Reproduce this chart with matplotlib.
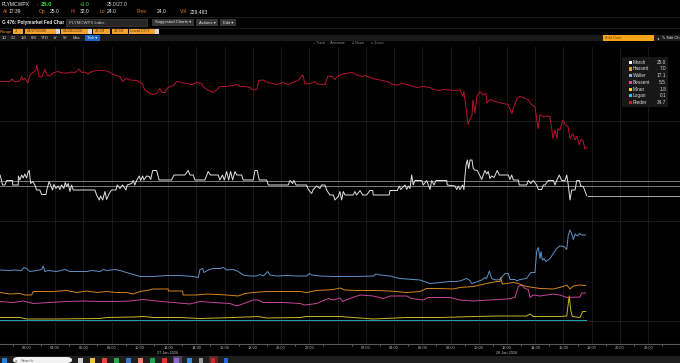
import matplotlib
matplotlib.use('Agg')
import matplotlib.pyplot as plt
from matplotlib.patches import Rectangle, FancyBboxPatch

plt.rcParams['font.family'] = ['Liberation Sans', 'DejaVu Sans']

W, H = 680, 363

# time axis: hours since 27 Jan 2026 00:00 (local), values: implied probability (%)
rieder_t = [0.1, 0.8, 0.94, 1.15, 1.5, 1.65, 1.72, 1.86, 2.08, 2.22,
            2.43, 2.64, 2.71, 2.85, 3.07, 3.28, 3.42, 3.63, 3.85, 4.2,
            4.48, 4.84, 5.19, 5.4, 5.69, 5.9, 6.11, 6.32, 6.61, 6.96,
            7.32, 7.67, 7.88, 8.24, 8.59, 8.8, 9.02, 9.3, 9.8, 10.15,
            10.36, 10.72, 10.93, 11.21, 11.42, 11.57, 11.78, 11.99, 12.34, 12.63,
            12.98, 13.34, 13.69, 14.04, 14.4, 14.47, 14.82, 15.18, 15.46, 15.67,
            16.17, 16.59, 16.88, 17.09, 17.44, 17.8, 18.01, 18.29, 18.43, 18.72,
            19.07, 19.71, 20.13, 20.49, 20.84, 21.2, 21.55, 21.69, 22.05, 22.4,
            22.54, 23.11, 23.32, 23.6, 23.82, 24.03, 24.38, 25.02, 25.38, 25.73,
            25.94, 26.3, 26.51, 27.0, 27.5, 27.93, 28.28, 28.56, 28.92, 29.27,
            29.63, 29.98, 30.55, 30.9, 31.25, 31.47, 31.96, 32.32, 32.67, 32.88,
            32.95, 33.17, 33.24, 33.52, 33.59, 33.73, 33.87, 34.09, 34.3, 34.51,
            34.58, 34.79, 35.15, 35.72, 36.07, 36.35, 36.42, 36.71, 36.92, 37.27,
            37.49, 37.77, 37.98, 38.2, 38.34, 38.55, 38.83, 39.04, 39.26, 39.4,
            39.54, 39.61, 39.75, 39.96, 40.11, 40.32, 40.46, 40.67, 40.81, 40.96,
            41.1, 41.24, 41.38, 41.52, 41.66]
rieder_v = [47.8, 47.8, 48.3, 47.7, 47.9, 48.8, 48.1, 48.5, 47.5, 49.1,
            49.6, 50.1, 51.1, 48.8, 48.7, 50.3, 49.1, 48.9, 49.5, 49.8,
            49.5, 49.5, 49.7, 49.5, 50.3, 49.6, 49.7, 49.3, 49.8, 50.0,
            50.0, 49.9, 49.6, 49.1, 48.8, 47.8, 48.4, 48.1, 48.0, 47.4,
            46.1, 45.4, 45.2, 45.4, 46.4, 45.6, 45.6, 46.6, 46.9, 47.8,
            47.6, 47.4, 47.2, 47.6, 47.4, 46.8, 46.1, 45.6, 46.2, 46.8,
            46.8, 47.0, 47.2, 46.8, 46.8, 46.6, 46.1, 46.2, 48.0, 48.1,
            47.6, 47.2, 47.6, 47.2, 47.6, 48.0, 49.1, 47.3, 47.4, 47.8,
            47.3, 47.2, 48.9, 48.8, 48.2, 48.9, 49.3, 49.6, 49.1, 48.8,
            49.0, 48.6, 48.4, 48.1, 47.8, 47.2, 47.1, 47.4, 47.2, 46.9,
            46.6, 46.8, 46.6, 46.1, 46.0, 46.2, 46.1, 46.0, 46.1, 44.8,
            45.8, 40.8, 39.3, 41.1, 44.1, 41.5, 44.8, 45.8, 45.1, 45.4,
            43.5, 44.2, 43.8, 43.4, 43.2, 41.4, 42.2, 44.4, 44.8, 44.4,
            44.2, 43.1, 42.8, 38.4, 41.1, 40.8, 40.9, 40.8, 36.4, 38.1,
            36.4, 38.4, 38.1, 40.1, 39.1, 38.8, 36.4, 37.4, 36.1, 36.9,
            35.1, 36.2, 36.0, 34.3, 34.7]

marsh_t = [0.1, 0.21, 0.28, 0.45, 0.57, 0.99, 1.0, 1.39, 1.4, 1.51,
           1.63, 1.74, 1.86, 1.98, 2.1, 2.17, 2.27, 2.41, 2.57, 2.69,
           2.92, 3.05, 3.35, 3.44, 3.58, 3.68, 3.82, 3.92, 4.06, 4.22,
           4.34, 4.46, 4.62, 4.72, 4.82, 4.93, 5.05, 5.17, 5.28, 6.82,
           6.94, 7.13, 7.22, 7.37, 7.53, 7.65, 7.83, 8.0, 8.31, 8.4,
           8.59, 8.78, 9.02, 9.11, 9.42, 9.53, 9.65, 9.77, 9.96, 10.06,
           10.2, 10.29, 10.48, 10.67, 10.77, 10.91, 11.19, 11.37, 12.25, 12.42,
           13.19, 13.43, 13.55, 13.78, 13.9, 14.61, 14.84, 15.01, 15.55, 15.67,
           15.86, 15.98, 16.15, 16.29, 16.43, 16.57, 16.74, 16.86, 17.21, 17.32,
           18.03, 18.15, 18.31, 18.46, 18.98, 19.1, 20.51, 20.63, 20.82, 20.91,
           21.06, 21.81, 21.93, 22.17, 22.28, 22.52, 22.75, 22.87, 23.11, 23.23,
           23.46, 23.7, 23.82, 24.05, 24.17, 24.29, 24.41, 24.53, 25.11, 25.23,
           25.35, 25.59, 25.78, 26.06, 26.3, 26.49, 26.53, 27.66, 27.71, 28.23,
           28.37, 28.47, 28.78, 28.9, 29.01, 29.13, 29.25, 29.36, 29.48, 29.96,
           30.07, 30.31, 30.43, 30.55, 30.67, 30.83, 30.97, 31.73, 31.77, 32.32,
           32.44, 32.55, 32.67, 32.86, 32.95, 33.02, 33.1, 33.19, 33.29, 33.38,
           33.52, 33.61, 33.73, 33.9, 34.09, 34.21, 34.32, 34.44, 34.56, 34.67,
           34.79, 34.91, 35.08, 35.31, 35.45, 36.09, 36.21, 36.33, 36.45, 36.8,
           36.87, 37.39, 37.51, 37.68, 37.86, 38.1, 38.22, 38.46, 38.57, 38.69,
           38.92, 39.28, 39.4, 39.52, 39.7, 39.87, 40.11, 40.23, 40.34, 40.46,
           40.58, 40.82, 40.94, 41.12, 41.22, 41.4, 41.64]
marsh_v = [29.1, 28.0, 27.1, 27.1, 28.0, 28.0, 27.1, 27.1, 28.9, 28.1,
           29.1, 28.5, 29.3, 28.5, 29.8, 30.0, 27.4, 27.8, 27.1, 26.1,
           26.1, 25.2, 25.2, 26.4, 27.8, 27.1, 26.1, 27.2, 26.4, 26.9,
           26.2, 27.1, 26.4, 27.6, 26.8, 27.4, 25.8, 27.1, 26.1, 26.1,
           25.1, 24.1, 24.9, 24.1, 25.8, 24.2, 25.4, 26.1, 26.1, 27.1,
           26.4, 27.1, 26.1, 27.1, 27.4, 28.0, 27.1, 28.0, 28.9, 28.0,
           28.9, 28.1, 28.9, 28.8, 28.2, 30.0, 30.0, 28.1, 28.1, 29.1,
           29.1, 30.0, 29.1, 29.1, 28.1, 28.1, 29.8, 29.1, 29.1, 28.1,
           29.1, 28.1, 29.8, 28.1, 29.8, 28.1, 29.8, 29.1, 29.1, 28.1,
           28.1, 30.0, 30.0, 28.1, 28.1, 27.1, 27.1, 28.0, 27.4, 28.0,
           27.1, 27.1, 26.2, 25.4, 26.2, 26.9, 26.4, 27.1, 27.1, 26.1,
           25.1, 25.1, 24.1, 24.8, 25.8, 24.1, 25.8, 25.1, 25.1, 25.8,
           25.1, 26.0, 25.1, 25.1, 26.0, 26.0, 25.1, 25.1, 26.0, 26.0,
           26.9, 26.2, 27.1, 26.2, 26.9, 26.4, 29.1, 27.1, 28.0, 28.0,
           27.1, 28.0, 27.1, 26.2, 28.0, 27.1, 28.0, 28.0, 27.1, 26.9,
           26.2, 26.9, 26.2, 27.1, 26.2, 28.8, 31.1, 32.1, 30.4, 32.1,
           32.1, 30.4, 30.1, 30.0, 28.9, 28.2, 29.1, 30.0, 29.3, 29.8,
           28.4, 28.9, 28.6, 30.0, 29.1, 29.1, 28.2, 29.1, 28.1, 28.1,
           27.1, 27.1, 28.0, 27.4, 28.0, 27.1, 26.2, 26.2, 27.1, 27.1,
           28.0, 28.0, 27.1, 28.0, 29.1, 28.0, 28.0, 29.1, 27.1, 24.1,
           26.1, 26.1, 28.0, 28.0, 26.9, 26.8, 25.0]

waller_t = [0.1, 0.8, 1.03, 1.63, 1.79, 1.98, 2.22, 2.69, 3.05, 3.16,
            3.28, 3.51, 4.11, 4.7, 5.05, 6.23, 6.59, 7.17, 7.41, 7.65,
            8.24, 8.59, 9.3, 10.01, 10.95, 11.9, 12.84, 13.78, 14.14, 14.26,
            14.45, 14.54, 14.84, 15.2, 15.67, 15.91, 16.15, 16.62, 16.97, 17.32,
            17.8, 18.27, 18.51, 18.74, 19.05, 19.21, 19.69, 20.4, 21.11, 21.81,
            22.0, 22.17, 22.75, 23.7, 24.17, 25.35, 26.53, 26.72, 27.01, 27.71,
            28.42, 29.36, 29.84, 30.55, 31.25, 31.96, 32.32, 32.67, 33.14, 33.33,
            33.5, 33.73, 34.21, 34.44, 34.56, 34.75, 34.91, 35.08, 35.27, 35.5,
            35.86, 36.09, 36.21, 36.57, 36.69, 36.92, 37.39, 37.68, 37.98, 38.1,
            38.22, 38.34, 38.41, 38.5, 38.62, 38.76, 39.04, 39.28, 39.52, 39.75,
            40.04, 40.23, 40.34, 40.46, 40.58, 40.7, 40.82, 40.98, 41.12, 41.29,
            41.57]
waller_v = [10.1, 10.0, 10.1, 10.0, 10.6, 10.4, 9.8, 10.0, 10.2, 10.9,
            9.8, 10.0, 9.8, 10.2, 9.8, 9.8, 10.0, 9.8, 10.2, 10.0,
            10.2, 10.0, 9.4, 8.8, 8.8, 9.0, 9.0, 8.8, 8.6, 10.2,
            10.4, 9.6, 10.1, 10.4, 10.4, 10.6, 10.1, 10.2, 9.8, 9.1,
            8.9, 8.9, 9.2, 8.9, 9.8, 9.1, 8.9, 9.0, 8.9, 8.9,
            9.4, 9.1, 8.9, 8.8, 8.8, 8.8, 8.9, 9.3, 9.1, 8.9,
            8.4, 8.2, 8.1, 7.4, 7.6, 7.8, 7.8, 7.9, 8.4, 8.1,
            7.4, 7.6, 8.1, 8.6, 8.4, 9.9, 8.4, 8.2, 8.1, 8.2,
            9.4, 9.4, 8.2, 8.2, 7.9, 8.2, 8.4, 9.6, 9.6, 13.8,
            14.6, 12.4, 13.8, 12.1, 12.4, 11.8, 12.4, 13.4, 14.4, 14.9,
            14.8, 14.2, 17.1, 18.1, 17.4, 16.2, 17.3, 16.9, 17.4, 17.1,
            17.1]

hassett_t = [0.1, 0.8, 1.51, 1.86, 2.34, 2.45, 3.16, 3.87, 4.82, 5.52,
             6.23, 6.94, 7.65, 8.36, 9.07, 9.53, 10.01, 10.48, 10.95, 12.01,
             12.02, 13.03, 13.07, 14.02, 14.73, 15.44, 16.15, 16.97, 17.44, 18.03,
             18.98, 20.16, 21.34, 21.81, 22.52, 23.23, 23.7, 24.17, 24.53, 25.35,
             26.53, 27.71, 28.9, 29.84, 30.31, 31.25, 32.2, 32.67, 33.61, 34.09,
             34.56, 35.27, 35.5, 35.55, 35.67, 35.98, 36.45, 36.8, 37.04, 37.39,
             38.34, 39.28, 39.99, 40.23, 40.46, 40.7, 41.17, 41.57]
hassett_v = [5.6, 5.3, 5.4, 5.1, 5.1, 5.8, 5.8, 5.8, 6.0, 5.6,
             5.9, 5.6, 5.8, 5.6, 5.6, 5.3, 5.8, 6.0, 6.3, 6.3,
             5.9, 5.9, 5.1, 5.1, 5.3, 5.2, 5.1, 4.9, 5.4, 5.6,
             5.8, 5.8, 5.8, 5.6, 6.0, 6.1, 6.2, 6.5, 6.1, 6.0,
             6.0, 5.9, 5.6, 5.8, 6.4, 6.4, 6.3, 6.6, 6.8, 7.1,
             7.4, 7.8, 7.8, 8.6, 7.3, 7.4, 7.6, 7.4, 7.1, 6.8,
             6.4, 6.3, 6.8, 7.1, 6.3, 6.9, 7.1, 7.0]

bessent_t = [0.1, 1.03, 1.74, 2.45, 3.63, 4.82, 5.99, 7.17, 8.36, 9.3,
             10.24, 11.19, 12.37, 13.55, 14.26, 15.2, 16.38, 16.86, 17.56, 18.03,
             18.39, 18.74, 20.16, 21.34, 21.69, 22.52, 23.34, 23.7, 24.17, 24.36,
             24.88, 25.59, 26.53, 27.24, 27.71, 28.9, 29.25, 30.07, 30.43, 31.25,
             31.96, 32.67, 33.61, 34.79, 35.98, 36.57, 36.8, 37.04, 37.27, 37.51,
             37.63, 37.86, 38.34, 38.81, 39.28, 39.75, 40.23, 41.17, 41.29, 41.57]
bessent_v = [3.8, 3.6, 3.9, 3.4, 3.6, 3.8, 3.9, 3.8, 3.8, 3.9,
             4.2, 3.9, 3.6, 3.3, 3.8, 3.6, 3.4, 2.9, 3.6, 4.1,
             4.1, 3.6, 3.6, 3.4, 3.1, 3.4, 4.4, 4.1, 4.5, 3.8,
             4.4, 5.1, 4.9, 4.4, 4.9, 4.9, 4.4, 4.1, 4.6, 4.6,
             4.6, 4.1, 3.9, 4.1, 4.3, 4.6, 6.8, 7.1, 6.4, 6.2,
             4.6, 5.1, 4.9, 5.1, 5.3, 5.1, 4.6, 4.7, 5.5, 5.5]

miran_t = [0.1, 1.51, 1.98, 4.11, 7.17, 7.65, 9.53, 10.24, 10.95, 12.84,
           14.26, 16.62, 18.39, 18.98, 21.34, 21.81, 24.17, 26.53, 28.9, 31.25,
           33.61, 35.5, 37.39, 37.63, 37.86, 39.75, 40.23, 40.34, 40.41, 40.51,
           40.63, 41.17, 41.36, 41.57]
miran_v = [0.6, 0.6, 0.3, 0.3, 0.4, 0.6, 0.7, 0.8, 0.6, 0.6,
           0.4, 0.6, 0.8, 0.5, 0.6, 0.8, 0.8, 0.3, 0.6, 0.6,
           0.8, 0.9, 0.9, 1.3, 0.8, 0.8, 0.9, 3.4, 4.9, 2.1,
           0.8, 0.6, 1.8, 1.8]

logan_t = [0.1, 10.0, 20.0, 30.0, 41.57]
logan_v = [0.1, 0.1, 0.1, 0.1, 0.1]

names = ['Marsh', 'Hassett', 'Waller', 'Bessent', 'Miran', 'Logan', 'Rieder']
last_vals = ['25.0', '7.0', '17.1', '5.5', '1.8', '0.1', '34.7']
line_colors = ['#e2e2e2', '#d4861c', '#5e93c8', '#c8459a', '#c9b824', '#1aa7b8', '#b8142e']
key_colors = ['#ffffff', '#f39a1e', '#7fb2ea', '#e8409c', '#f2d626', '#1ecbe0', '#e8102e']
ref_levels = [27, 28]

hour_ticks = list(range(2, 48, 2))
hour_labels = ['' if h == 24 else '%02d:00' % (h % 24) for h in hour_ticks]
day_labels = ['27 Jan 2026', '28 Jan 2026']


def px(x, y):
    return x / W, 1 - y / H


def box(x0, y0, x1, y1, color, ec='none', lw=0.0):
    fig.add_artist(Rectangle(px(x0, y1), (x1 - x0) / W, (y1 - y0) / H,
                             transform=fig.transFigure, facecolor=color,
                             edgecolor=ec, linewidth=lw))


def txt(x, y, s, color='#d0d0d0', size=3.4, **kw):
    fig.text(*px(x, y), s, color=color, fontsize=size, va='center', **kw)


fig = plt.figure(figsize=(6.8, 3.63), dpi=100, facecolor='black')
ax = fig.add_axes([0, 19 / H, 1, 297 / H])
ax.set_facecolor('black')

series = [(logan_t, logan_v, 5), (miran_t, miran_v, 4), (bessent_t, bessent_v, 3),
          (hassett_t, hassett_v, 1), (waller_t, waller_v, 2), (marsh_t, marsh_v, 0),
          (rieder_t, rieder_v, 6)]
for t, v, i in series:
    ax.plot(t, v, color=line_colors[i], lw=0.7, zorder=3)

ax.hlines(ref_levels, 0, 48.25, color='#8f8f8f', lw=0.6, zorder=2)
ax.hlines(marsh_v[-1], marsh_t[-1], 48.25, color='#c4c4c4', lw=0.6, zorder=2)

ax.set_xlim(0.1, 48.25)
ax.set_ylim(-4.7, 54.7)
ax.set_xticks(hour_ticks)
ax.set_xticklabels(hour_labels)
ax.set_xticks(range(1, 48, 2), minor=True)
ax.set_yticks([0, 20, 40])
ax.grid(True, which='major', color='#1d1d1d', lw=0.6, zorder=0)
ax.tick_params(axis='x', which='major', length=0, pad=1.5, labelsize=2.8,
               labelcolor='#bdbdbd')
ax.tick_params(axis='x', which='minor', length=1.5, width=0.5, color='#8a8a8a')
ax.tick_params(axis='y', left=False, labelleft=False)
for side in ['top', 'left', 'right']:
    ax.spines[side].set_visible(False)
ax.spines['bottom'].set_color('#5a5a5a')
ax.spines['bottom'].set_linewidth(0.8)

for h, lab in zip([12, 36], day_labels):
    ax.annotate(lab, xy=(h, 1 - 352.5 / H), xycoords=('data', 'figure fraction'),
                ha='center', va='center', fontsize=2.8, color='#bdbdbd')

# legend
box(622, 57, 668, 107, '#171717')
for i, (n, val) in enumerate(zip(names, last_vals)):
    yy = 62.3 + 6.7 * i
    box(628.5, yy - 1.6, 631.5, yy + 1.6, key_colors[i])
    txt(633, yy, n, color='#dcdcdc', size=3.4)
    txt(666, yy, val, color='#dcdcdc', size=3.4, ha='right')

# header
txt(2, 5, 'PLYMCWPX', color='#f0f0f0', size=3.6)
txt(35.5, 5, '↓', color='#e02020', size=3.8, fontweight='bold')
txt(41, 5, '25.0', color='#3ddc3d', size=4.2, fontweight='bold')
txt(80, 5, '+1.0', color='#3ddc3d', size=3.6)
txt(107, 5, '25.0/27.0', color='#d8d8d8', size=3.6)
row2 = [(3, 'At', '#e0821c'), (9, '17:39', '#e8e8e8'), (39, 'Op', '#e0821c'),
        (50, '25.0', '#e8e8e8'), (71, 'Hi', '#d0502a'), (80, '32.0', '#e8e8e8'),
        (100, 'Lo', '#e0821c'), (107, '24.0', '#e8e8e8'), (137, 'Prev', '#e0821c'),
        (157, '24.0', '#e8e8e8'), (180, 'Vol', '#e0821c'), (190, '229,483', '#e8e8e8')]
for x, s, c in row2:
    txt(x, 11.5, s, color=c, size=3.6)
fig.add_artist(plt.Line2D([0, 1], [1 - 16.5 / H] * 2, color='#202020', lw=0.6))

txt(2, 22.5, 'G 476: Polymarket Fed Char', color='#f0f0f0', size=3.3, fontweight='bold')
box(66, 19, 147, 26, '#262626', ec='#4a4a4a', lw=0.4)
txt(69, 22.5, 'PLYMCWPX Index', color='#c8c8c8', size=3.1)
for x0, x1, s in [(152, 194, 'Suggested Charts ▾'), (196, 218, 'Actions ▾'), (220, 236, 'Edit ▾')]:
    box(x0, 19, x1, 26, '#353535')
    txt((x0 + x1) / 2, 22.5, s, color='#e0e0e0', size=3.0, ha='center')
fig.add_artist(plt.Line2D([0, 1], [1 - 27.5 / H] * 2, color='#202020', lw=0.6))

txt(0, 31.5, 'Range', color='#f0a030', size=3.1)
for x0, x1, s in [(13, 23, '1'), (25, 56, '01/27/2026'), (61, 88, '01/28/2026'),
                  (93, 110, '23:59'), (112, 128, '23:59'), (129, 155, 'Local CCY')]:
    box(x0, 29, x1, 34, '#f2a230')
    txt(x0 + 1.5, 31.5, s, color='#5a3000', size=3.0)
for x in [56, 88, 155]:
    box(x, 29, x + 3.5, 34, '#d8d8d8')
txt(58.5, 31.5, '-', color='#d0d0d0', size=3.0)

box(0, 35, 680, 41, '#1c1c1c')
for x, s in [(2, '1D'), (11, '3D'), (21, '1M'), (31, '6M'), (41, 'YTD'), (53, '1Y'),
             (63, '5Y'), (73, 'Max')]:
    txt(x, 38, s, color='#cfcfcf', size=2.9)
box(85, 35.5, 100, 40.5, '#1a62c4')
txt(92.5, 38, 'Tick ▾', color='#ffffff', size=2.9, ha='center')
box(603, 35.5, 654, 40.5, '#f5a31a')
txt(605, 38, 'Add Data', color='#8a5000', size=2.9)
txt(656.5, 38, '◂', color='#cfcfcf', size=3.0)
txt(662, 38, '✎ Edit Ch', color='#e0e0e0', size=2.9)

for x, s in [(313, '+ Track'), (330, '⁄ Annotate'), (352, '≡ News'), (371, '○ Zoom')]:
    txt(x, 43.5, s, color='#8c8c8c', size=2.6)

# taskbar
box(0, 356, 680, 363, '#1e1e1e')
box(1.5, 358, 6.5, 363, '#2f7fd8')
fig.add_artist(FancyBboxPatch(px(13, 363), 59 / W, 6 / H, boxstyle='round,pad=0,rounding_size=0.008',
                              transform=fig.transFigure, facecolor='#f2f2f2', edgecolor='none'))
txt(15, 360.5, '○', color='#404040', size=3.0)
txt(21, 360.5, 'Search', color='#606060', size=3.0)
icons = [(80, '#d0d0d0', None), (92, '#f2c23c', None), (104, '#e04a3a', None),
         (116, '#2fa84a', None), (128, '#3a78c8', None), (140, '#e8826a', None),
         (152, '#23a455', None), (164, '#e03030', None), (177, '#8e6ad0', '#4e4460'),
         (189, '#3a8ad8', None), (201, '#9a9a9a', None), (213, '#d02828', '#5a2a2a'),
         (226, '#2a66e0', None)]
for x, c, bg in icons:
    if bg:
        box(x - 4.5, 356, x + 4.5, 363, bg)
    box(x - 2.5, 358, x + 2.5, 363, c)

fig.savefig('out.png', dpi=100, facecolor='black')
